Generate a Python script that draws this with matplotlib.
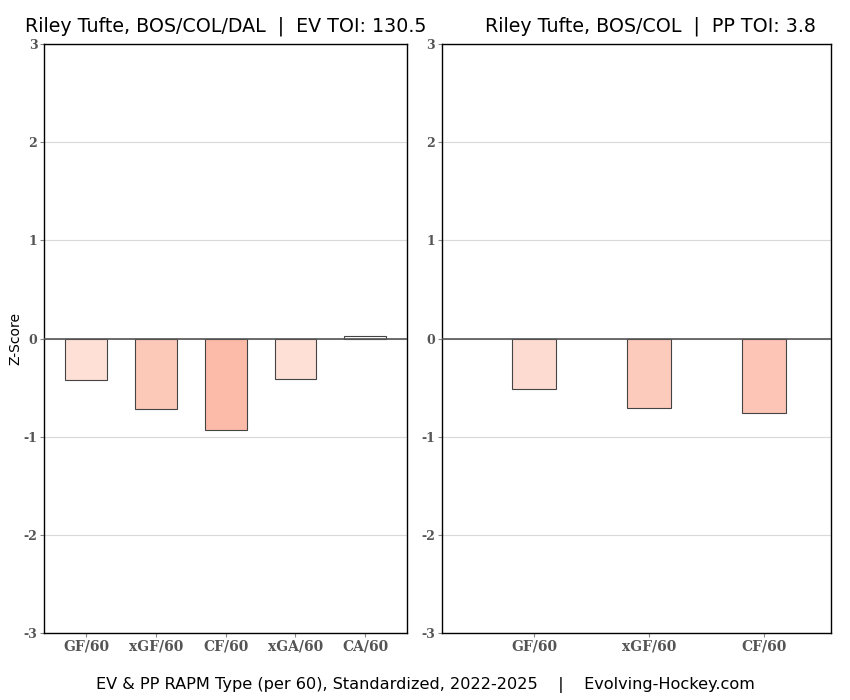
import matplotlib.pyplot as plt

plt.rcParams["axes.unicode_minus"] = False

# EV RAPM z-scores
ev_labels = ["GF/60", "xGF/60", "CF/60", "xGA/60", "CA/60"]
ev_values = [-0.42, -0.72, -0.93, -0.41, 0.03]
ev_colors = ["#fee0d6", "#fcc8b8", "#fcbba9", "#fee0d6", "#ffffff"]

# PP RAPM z-scores
pp_labels = ["GF/60", "xGF/60", "CF/60"]
pp_values = [-0.51, -0.71, -0.76]
pp_colors = ["#fedbd1", "#fdcbbc", "#fcc5b5"]

ev_title = "Riley Tufte, BOS/COL/DAL  |  EV TOI: 130.5"
pp_title = "Riley Tufte, BOS/COL  |  PP TOI: 3.8"
footer = "EV & PP RAPM Type (per 60), Standardized, 2022-2025    |    Evolving-Hockey.com"

fig = plt.figure(figsize=(8.5, 7), dpi=100)
ax1 = fig.add_axes([0.052, 0.0957, 0.427, 0.8414])
ax2 = fig.add_axes([0.52, 0.0957, 0.4576, 0.8414])


def draw(ax, labels, values, colors, width, xlim, title, title_x):
    x = list(range(len(labels)))
    ax.set_axisbelow(True)
    ax.grid(axis="y", color="#d9d9d9", linewidth=0.8)
    ax.bar(x, values, width=width, color=colors, edgecolor="#444444", linewidth=0.8, zorder=3)
    ax.axhline(0, color="#555555", linewidth=1.2, zorder=4)
    ax.set_ylim(-3, 3)
    ax.set_xlim(*xlim)
    ax.set_yticks([-3, -2, -1, 0, 1, 2, 3])
    ax.set_xticks(x)
    ax.set_xticklabels(labels, family="DejaVu Serif", fontweight="bold", color="#555555", fontsize=10)
    for t in ax.get_yticklabels():
        t.set_family("DejaVu Serif")
        t.set_fontweight("bold")
        t.set_color("#555555")
        t.set_fontsize(9)
    ax.tick_params(length=3, color="#888888", pad=2)
    for s in ax.spines.values():
        s.set_color("black")
        s.set_linewidth(1)
    ax.set_title(title, fontsize=13.7, pad=9, x=title_x)


draw(ax1, ev_labels, ev_values, ev_colors, 0.6, (-0.6, 4.6), ev_title, 0.5)
draw(ax2, pp_labels, pp_values, pp_colors, 0.38, (-0.8, 2.58), pp_title, 0.536)
ax1.set_ylabel("Z-Score", fontsize=10)
ax1.yaxis.set_label_coords(-0.06, 0.5)

fig.text(0.5, 0.016, footer, ha="center", fontsize=11.6)

fig.savefig("out.png", dpi=100)
